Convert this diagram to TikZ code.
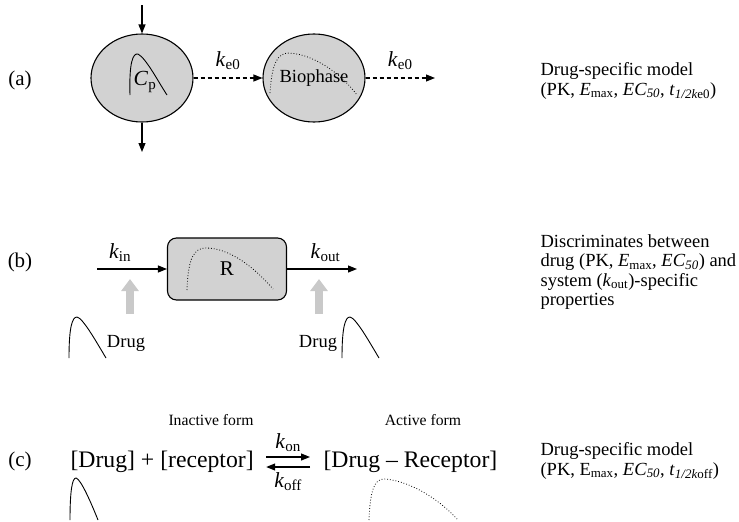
\documentclass[tikz,border=0pt]{standalone}
\usepackage{fontspec}
\setmainfont{Liberation Serif}
\usepackage{tikz}
\usetikzlibrary{arrows.meta, shapes.geometric}

\newcommand{\rate}[1]{\textit{k}\textsubscript{#1}}
\newcommand{\itsub}[1]{\textsubscript{\textit{#1}}}

\begin{document}
\begin{tikzpicture}[x=1pt, y=-1pt, >={Triangle[length=9pt,width=7pt]}, line width=1.1pt,
    every node/.style={align=left, inner sep=0pt, font=\fontsize{18.5}{19.5}\selectfont},
    comp/.style={ellipse, draw, fill=compfill, minimum width=102pt, minimum height=88pt},
    big/.style={font=\fontsize{23.7}{26}\selectfont},
    small/.style={font=\fontsize{15.7}{17}\selectfont},
    ratelab/.style={font=\fontsize{21.5}{23}\selectfont},
    panel/.style={font=\fontsize{21}{23}\selectfont},
    grayup/.style={druggray, line width=8pt, -{Triangle[length=12pt,width=17pt]}}]
      \colorlet{compfill}{gray!35} \colorlet{druggray}{gray!42}
      \useasboundingbox (0,0) rectangle (739,522);

      % (a)
      \node[panel] (la) at (20,80) {(a)};
      \node[comp] (cp) at (142,78) {};
      \node[ratelab] (cplab) at (145,82) {\textit{C}\textsubscript{p}};
      \draw[line width=0.9pt] (130,95) .. controls (129,62) and (133,53) .. (138,54) .. controls (146,58) and (159,83) .. (167,95);
      \coordinate (dose) at (142,5);
      \coordinate (elim) at (142,152);
      \draw[->] (dose) -- (cp.north);
      \draw[->] (cp.south) -- (elim);
      \node[comp] (bio) at (314,78) {Biophase};
      \draw[dotted, line width=0.8pt] (270,93) .. controls (272,62) and (278,53) .. (289,53) .. controls (312,54) and (340,72) .. (357,95);
      \coordinate (bioout) at (435,78);
      \draw[->, dash pattern=on 4pt off 3pt] (cp.east) -- (bio.west) node[midway, above=8pt, ratelab] (ke1) {\rate{e0}};
      \draw[->, dash pattern=on 4pt off 3pt] (bio.east) -- (bioout) node[midway, above=8pt, ratelab] (ke2) {\rate{e0}};
      \node[anchor=north west] (desca) at (540,62) {Drug-specific model\\(PK, \textit{E}\textsubscript{max}, \textit{EC}\itsub{50}, \textit{t}\textsubscript{\textit{1/2k}e0})};

      % (b)
      \node[panel] (lb) at (20,262) {(b)};
      \node[draw, fill=compfill, rounded corners=9pt, minimum width=119pt, minimum height=62pt, panel] (resp) at (227,269) {R};
      \draw[dotted, line width=0.8pt] (187,290) .. controls (188,258) and (194,248) .. (206,248) .. controls (230,248) and (255,268) .. (273,289);
      \coordinate (kin) at (97,269);
      \coordinate (kout) at (357,269);
      \draw[->] (kin) -- (resp.west) node[pos=0.33, above=7pt, ratelab] (kinlab) {\rate{in}};
      \draw[->] (resp.east) -- (kout) node[pos=0.55, above=7pt, ratelab] (koutlab) {\rate{out}};
      \coordinate (gl) at (130,314);
      \coordinate (gr) at (319,314);
      \draw[grayup] (gl) -- ++(0,-35);
      \draw[grayup] (gr) -- ++(0,-35);
      \node (drugl) at (126,343) {Drug};
      \node (drugr) at (318,343) {Drug};
      \draw[line width=0.9pt] (69,358) .. controls (69,328) and (72,317) .. (77,317) .. controls (83,318) and (97,343) .. (106,358);
      \draw[line width=0.9pt] (342,358) .. controls (342,328) and (345,317) .. (350,317) .. controls (356,318) and (370,343) .. (379,358);
      \node[anchor=north west] (descb) at (540,234) {Discriminates between\\drug (PK, \textit{E}\textsubscript{max}, \textit{EC}\itsub{50}) and\\system (\rate{out})-specific\\properties};

      % (c)
      \node[panel] (lc) at (20,461) {(c)};
      \node[big, anchor=west] (free) at (70,462) {[Drug] + [receptor]};
      \node[big, anchor=west] (bound) at (323,462) {[Drug -- Receptor]};
      \node[small] (inact) at (211,420) {Inactive form};
      \node[small] (act) at (423,420) {Active form};
      \draw[->] ([xshift=12pt,yshift=5pt]free.east) -- ([xshift=-13pt,yshift=5pt]bound.west) node[midway, above=5pt, ratelab] (kon) {\rate{on}};
      \draw[->] ([xshift=-13pt,yshift=-5pt]bound.west) -- ([xshift=12pt,yshift=-5pt]free.east) node[midway, below=5pt, ratelab] (koff) {\rate{off}};
      \draw[line width=0.9pt] (70,520) .. controls (70,492) and (72,478) .. (76,478) .. controls (81,479) and (92,505) .. (98,520);
      \draw[dotted, line width=0.8pt] (369,520) .. controls (370,492) and (374,479) .. (384,479) .. controls (405,480) and (435,495) .. (457,519);
      \node[anchor=north west] (descc) at (540,442) {Drug-specific model\\(PK, E\textsubscript{max}, \textit{EC}\itsub{50}, \textit{t}\textsubscript{\textit{1/2k}off})};
    \end{tikzpicture}
\end{document}
